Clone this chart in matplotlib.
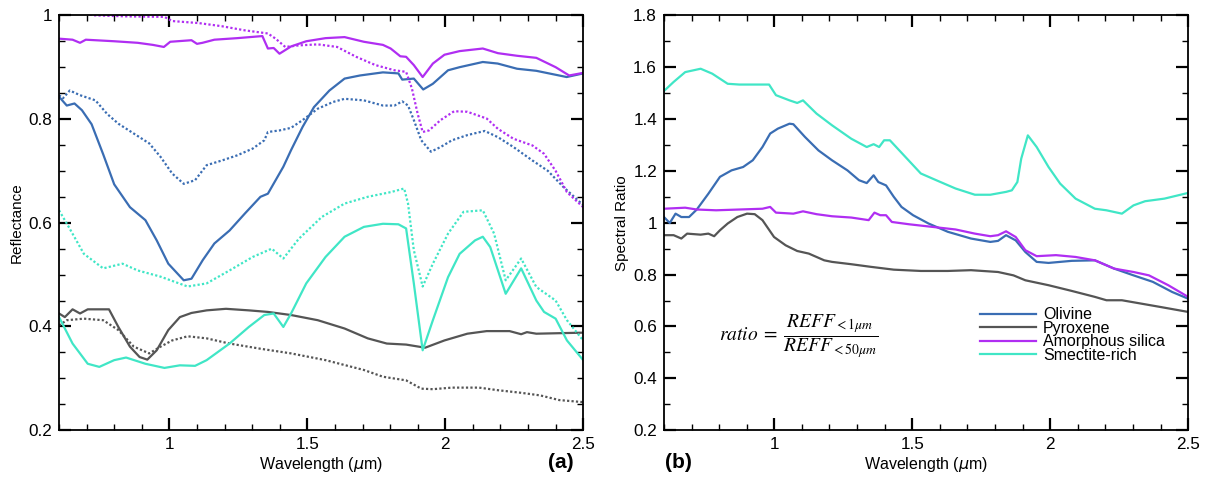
import numpy as np
import matplotlib.pyplot as plt
from matplotlib.ticker import MultipleLocator, FuncFormatter

plt.rcParams.update({
    "font.family": ["Liberation Sans", "DejaVu Sans"],
    "font.size": 12.3,
    "axes.linewidth": 1.3,
    "xtick.direction": "in", "ytick.direction": "in",
    "xtick.top": True, "ytick.right": True,
    "xtick.major.size": 8.5, "ytick.major.size": 8.5,
    "xtick.minor.size": 4.5, "ytick.minor.size": 4.5,
    "xtick.major.width": 1.6, "ytick.major.width": 1.6,
    "xtick.minor.width": 1.0, "ytick.minor.width": 1.0,
    "xtick.major.pad": 5, "ytick.major.pad": 5,
})

OLIV   = "#3a6db3"
PYRO   = "#555555"
SILICA = "#b02ef2"
SMEC   = "#40e6c6"

names = ["Olivine", "Pyroxene", "Amorphous silica", "Smectite-rich"]

# --- panel (a): reflectance, solid = <50 um, dotted = <1 um ---
oliv_coarse = [(0.6,0.843),(0.628,0.826),(0.656,0.83),(0.683,0.817),(0.718,0.79),(0.76,0.732),
               (0.80,0.674),(0.857,0.63),(0.913,0.605),(0.954,0.566),(0.996,0.521),(1.052,0.489),
               (1.08,0.492),(1.121,0.528),(1.163,0.56),(1.218,0.585),(1.274,0.618),(1.33,0.65),
               (1.357,0.656),(1.385,0.682),(1.413,0.708),(1.441,0.74),(1.483,0.785),(1.524,0.823),
               (1.58,0.855),(1.635,0.878),(1.691,0.884),(1.774,0.89),(1.83,0.888),(1.844,0.876),
               (1.886,0.878),(1.92,0.857),(1.955,0.868),(2.01,0.894),(2.052,0.9),(2.136,0.91),
               (2.19,0.907),(2.26,0.897),(2.33,0.893),(2.44,0.881),(2.5,0.888)]
oliv_fine = [(0.6,0.846),(0.614,0.84),(0.639,0.855),(0.676,0.846),(0.732,0.836),(0.774,0.81),
             (0.815,0.791),(0.871,0.772),(0.927,0.753),(0.968,0.727),(1.01,0.695),(1.052,0.675),
             (1.093,0.682),(1.135,0.711),(1.19,0.72),(1.246,0.73),(1.302,0.743),(1.344,0.759),
             (1.357,0.775),(1.399,0.778),(1.441,0.783),(1.483,0.798),(1.538,0.82),(1.594,0.833),
             (1.635,0.839),(1.705,0.836),(1.774,0.826),(1.816,0.826),(1.844,0.834),(1.865,0.826),
             (1.886,0.798),(1.913,0.759),(1.948,0.737),(1.983,0.746),(2.024,0.759),(2.08,0.769),
             (2.143,0.777),(2.191,0.765),(2.247,0.746),(2.316,0.72),(2.372,0.70),(2.428,0.669),
             (2.5,0.634)]
pyro_coarse = [(0.6,0.425),(0.621,0.418),(0.649,0.433),(0.676,0.425),(0.704,0.433),(0.781,0.433),
               (0.815,0.399),(0.857,0.361),(0.892,0.341),(0.92,0.336),(0.954,0.354),(0.996,0.393),
               (1.038,0.418),(1.08,0.426),(1.135,0.431),(1.205,0.434),(1.288,0.431),(1.357,0.428),
               (1.441,0.422),(1.538,0.412),(1.635,0.396),(1.719,0.377),(1.788,0.367),(1.858,0.365),
               (1.927,0.359),(1.997,0.373),(2.08,0.386),(2.15,0.391),(2.233,0.391),(2.275,0.385),
               (2.296,0.389),(2.33,0.386),(2.5,0.388)]
pyro_fine = [(0.6,0.402),(0.628,0.412),(0.69,0.415),(0.76,0.412),(0.815,0.393),(0.871,0.361),
             (0.927,0.348),(0.968,0.361),(1.01,0.373),(1.066,0.381),(1.135,0.377),(1.218,0.367),
             (1.33,0.357),(1.441,0.348),(1.566,0.335),(1.705,0.316),(1.774,0.303),(1.858,0.296),
             (1.913,0.28),(1.955,0.279),(2.024,0.282),(2.122,0.282),(2.191,0.277),(2.275,0.272),
             (2.344,0.267),(2.413,0.258),(2.5,0.254)]
silica_coarse = [(0.6,0.955),(0.649,0.953),(0.676,0.947),(0.697,0.953),(0.80,0.95),(0.885,0.947),
                 (0.94,0.943),(0.98,0.939),(1.003,0.949),(1.08,0.952),(1.10,0.945),(1.12,0.947),
                 (1.163,0.953),(1.246,0.956),(1.337,0.96),(1.357,0.936),(1.378,0.937),(1.399,0.926),
                 (1.441,0.94),(1.496,0.95),(1.566,0.956),(1.635,0.958),(1.705,0.949),(1.774,0.943),
                 (1.802,0.936),(1.837,0.921),(1.858,0.92),(1.886,0.904),(1.918,0.881),(1.955,0.907),
                 (1.997,0.924),(2.052,0.931),(2.136,0.936),(2.191,0.927),(2.26,0.922),(2.33,0.918),
                 (2.40,0.90),(2.449,0.884),(2.5,0.889)]
silica_fine = [(0.6,1.012),(0.7,1.003),(0.725,1.0),(0.843,0.998),(0.982,0.997),(1.01,0.989),
               (1.107,0.985),(1.19,0.979),(1.274,0.971),(1.357,0.965),(1.385,0.955),(1.42,0.939),
               (1.469,0.942),(1.538,0.944),(1.608,0.939),(1.677,0.92),(1.747,0.904),(1.816,0.894),
               (1.858,0.891),(1.879,0.859),(1.90,0.81),(1.918,0.775),(1.941,0.778),(1.983,0.798),
               (2.032,0.815),(2.08,0.814),(2.15,0.801),(2.191,0.781),(2.247,0.762),(2.316,0.749),
               (2.358,0.733),(2.40,0.70),(2.441,0.659),(2.5,0.63)]
smec_coarse = [(0.6,0.418),(0.649,0.367),(0.704,0.328),(0.746,0.322),(0.80,0.335),(0.843,0.34),
               (0.913,0.328),(0.982,0.32),(1.038,0.325),(1.093,0.324),(1.135,0.335),(1.218,0.367),
               (1.288,0.399),(1.344,0.422),(1.378,0.425),(1.413,0.399),(1.441,0.425),(1.496,0.483),
               (1.566,0.534),(1.635,0.573),(1.705,0.592),(1.774,0.598),(1.83,0.597),(1.858,0.589),
               (1.886,0.483),(1.918,0.354),(1.955,0.412),(2.01,0.495),(2.052,0.54),(2.108,0.566),
               (2.136,0.573),(2.163,0.553),(2.219,0.463),(2.275,0.512),(2.33,0.45),(2.358,0.428),
               (2.40,0.415),(2.441,0.373),(2.5,0.335)]
smec_fine = [(0.6,0.624),(0.635,0.592),(0.69,0.54),(0.76,0.512),(0.83,0.521),(0.885,0.508),
             (0.968,0.496),(1.066,0.477),(1.135,0.483),(1.218,0.508),(1.302,0.534),(1.371,0.55),
             (1.413,0.531),(1.469,0.569),(1.552,0.611),(1.635,0.637),(1.719,0.65),(1.802,0.659),
             (1.851,0.666),(1.865,0.637),(1.886,0.547),(1.918,0.477),(1.955,0.521),(2.01,0.579),
             (2.066,0.621),(2.136,0.624),(2.177,0.579),(2.219,0.489),(2.275,0.531),(2.33,0.476),
             (2.40,0.45),(2.441,0.412),(2.5,0.373)]

# --- panel (b): spectral ratio ---
oliv_ratio = [(0.6,1.022),(0.621,0.999),(0.642,1.035),(0.663,1.022),(0.691,1.022),(0.719,1.051),
              (0.761,1.112),(0.803,1.177),(0.845,1.202),(0.887,1.215),(0.922,1.241),(0.957,1.292),
              (0.985,1.344),(1.013,1.363),(1.055,1.382),(1.069,1.38),(1.111,1.331),(1.16,1.279),
              (1.209,1.241),(1.265,1.202),(1.307,1.164),(1.335,1.153),(1.36,1.183),(1.377,1.157),
              (1.405,1.144),(1.433,1.1),(1.461,1.061),(1.503,1.029),(1.559,0.997),(1.629,0.965),
              (1.713,0.939),(1.783,0.926),(1.811,0.93),(1.84,0.952),(1.875,0.932),(1.91,0.887),
              (1.951,0.849),(1.994,0.845),(2.078,0.853),(2.162,0.855),(2.232,0.823),(2.302,0.797),
              (2.372,0.772),(2.442,0.733),(2.5,0.707)]
pyro_ratio = [(0.6,0.952),(0.635,0.952),(0.663,0.939),(0.684,0.958),(0.733,0.954),(0.761,0.958),
              (0.782,0.948),(0.803,0.971),(0.831,0.997),(0.866,1.022),(0.901,1.035),(0.929,1.033),
              (0.957,1.01),(0.999,0.945),(1.041,0.913),(1.083,0.891),(1.125,0.881),(1.181,0.855),
              (1.209,0.849),(1.279,0.84),(1.349,0.83),(1.433,0.819),(1.531,0.814),(1.629,0.814),
              (1.713,0.817),(1.811,0.81),(1.867,0.797),(1.91,0.778),(1.994,0.759),(2.078,0.737),
              (2.162,0.714),(2.204,0.701),(2.26,0.701),(2.33,0.688),(2.4,0.675),(2.5,0.656)]
silica_ratio = [(0.6,1.054),(0.677,1.058),(0.719,1.051),(0.789,1.048),(0.901,1.052),(0.957,1.054),
                (0.985,1.061),(1.006,1.039),(1.069,1.035),(1.104,1.044),(1.153,1.033),(1.209,1.025),
                (1.279,1.02),(1.342,1.01),(1.363,1.039),(1.384,1.029),(1.405,1.029),(1.426,1.003),
                (1.489,0.994),(1.573,0.984),(1.657,0.974),(1.727,0.958),(1.783,0.948),(1.811,0.952),
                (1.84,0.967),(1.875,0.945),(1.91,0.894),(1.951,0.871),(2.021,0.875),(2.092,0.868),
                (2.162,0.855),(2.232,0.823),(2.302,0.81),(2.358,0.797),(2.428,0.759),(2.5,0.714)]
smec_ratio = [(0.6,1.508),(0.635,1.543),(0.677,1.581),(0.733,1.594),(0.775,1.575),(0.831,1.536),
              (0.873,1.533),(0.929,1.533),(0.981,1.533),(1.006,1.492),(1.055,1.472),(1.083,1.462),
              (1.104,1.472),(1.153,1.421),(1.209,1.376),(1.279,1.324),(1.335,1.292),(1.36,1.303),
              (1.38,1.292),(1.398,1.318),(1.419,1.318),(1.475,1.254),(1.531,1.19),(1.587,1.164),
              (1.657,1.132),(1.727,1.108),(1.783,1.108),(1.84,1.119),(1.861,1.125),(1.881,1.157),
              (1.895,1.247),(1.919,1.337),(1.951,1.292),(1.994,1.215),(2.036,1.151),(2.092,1.093),
              (2.162,1.054),(2.204,1.048),(2.26,1.035),(2.302,1.067),(2.344,1.083),(2.414,1.093),
              (2.5,1.115)]

colors = [OLIV, PYRO, SILICA, SMEC]
refl_coarse = [oliv_coarse, pyro_coarse, silica_coarse, smec_coarse]
refl_fine = [oliv_fine, pyro_fine, silica_fine, smec_fine]
ratios = [oliv_ratio, pyro_ratio, silica_ratio, smec_ratio]

fmt = FuncFormatter(lambda v, _: f"{v:g}")

def style_axis(ax, ylo, yhi, ymajor, yminor):
    ax.set_xlim(0.6, 2.5)
    ax.set_ylim(ylo, yhi)
    ax.xaxis.set_major_locator(MultipleLocator(0.5))
    ax.xaxis.set_minor_locator(MultipleLocator(0.1))
    ax.yaxis.set_major_locator(MultipleLocator(ymajor))
    ax.yaxis.set_minor_locator(MultipleLocator(yminor))
    ax.xaxis.set_major_formatter(fmt)
    ax.yaxis.set_major_formatter(fmt)
    ax.tick_params(which="both", top=True, right=True)
    ax.set_xlabel(r"Wavelength ($\mu$m)", fontsize=11.5, labelpad=2)

fig = plt.figure(figsize=(12.05, 4.79), dpi=100)
ax1 = fig.add_axes([0.049, 0.102, 0.435, 0.866])
ax2 = fig.add_axes([0.551, 0.102, 0.435, 0.866])

for c, coarse, fine in zip(colors, refl_coarse, refl_fine):
    a = np.array(coarse)
    b = np.array(fine)
    ax1.plot(a[:, 0], a[:, 1], color=c, lw=1.6)
    ax1.plot(b[:, 0], b[:, 1], color=c, lw=1.6, ls=(0, (1, 1)))
style_axis(ax1, 0.2, 1.0, 0.2, 0.05)
ax1.set_ylabel("Reflectance", fontsize=11, labelpad=3)

for c, name, r in zip(colors, names, ratios):
    a = np.array(r)
    ax2.plot(a[:, 0], a[:, 1], color=c, lw=1.6, label=name)
style_axis(ax2, 0.2, 1.8, 0.2, 0.1)
ax2.set_ylabel("Spectral Ratio", fontsize=11, labelpad=3)

ax2.legend(loc="upper left", bbox_to_anchor=(0.603, 0.296), frameon=False,
           fontsize=11.5, handlelength=3.5, handletextpad=0.45, labelspacing=-0.1,
           borderpad=0, borderaxespad=0)

ax2.text(0.105, 0.2265, r"$ratio\;=\;\dfrac{REFF_{<1\mu m}}{REFF_{<50\mu m}}$",
         transform=ax2.transAxes, fontsize=14, math_fontfamily="stix",
         ha="left", va="center")

fig.text(0.465, 0.022, "(a)", fontsize=15, fontweight="bold", ha="center")
fig.text(0.563, 0.022, "(b)", fontsize=15, fontweight="bold", ha="center")

fig.savefig("out.png", dpi=100)
